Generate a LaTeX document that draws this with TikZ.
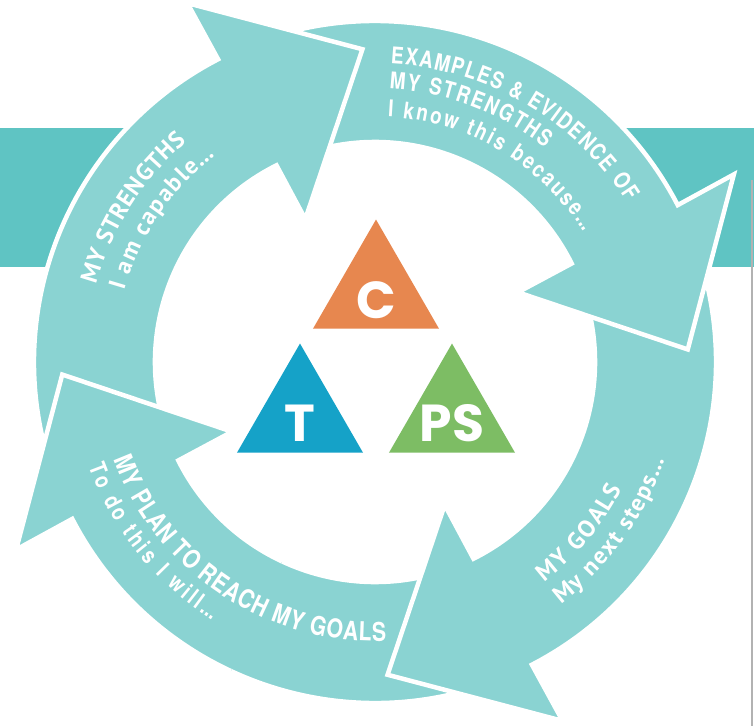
\documentclass[tikz,border=0pt]{standalone}
\usepackage{fontspec}
\usetikzlibrary{decorations.text,shapes.geometric}
\newfontfamily\humfont{PT Sans}
\newfontfamily\condfont[FakeStretch=0.82]{TeX Gyre Heros}
\newfontfamily\geofont{Poppins}
\newcommand\ringhum{\humfont\bfseries\fontsize{24}{24}\selectfont}
\newcommand\ringcond{\condfont\bfseries\fontsize{23}{23}\selectfont}
\newcommand\ringcondbig{\condfont\bfseries\fontsize{26}{26}\selectfont}
\definecolor{ringteal}{HTML}{8AD3D2}
\definecolor{bandteal}{HTML}{5FC4C3}
\definecolor{corange}{HTML}{E7874F}
\definecolor{tblue}{HTML}{15A2C8}
\definecolor{psgreen}{HTML}{7DBD64}
\def\ringarrow#1{(#1+85:341) arc[start angle=#1+85, end angle=#1+0.4, radius=341] -- (#1+0.6:405) -- (#1-24.7:313) -- (#1-1:159) -- (#1-0.4:220) arc[start angle=#1-0.4, end angle=#1+85, radius=220] -- cycle}
\tikzset{
	ringarrow/.style={fill=ringteal, draw=white, line width=4.5pt, line join=miter},
	ringtext/.style={decorate, decoration={text along path, text align={fit to path}, text color=white, text={#1}}},
	tri/.style={regular polygon, regular polygon sides=3, minimum size=145.5pt, inner sep=0pt, draw=none},
	tletter/.style={text=white, inner sep=0pt, font=\geofont\bfseries\fontsize{52}{52}\selectfont}
}

\begin{document}
\begin{tikzpicture}[x=1pt, y=1pt]
		%%%%% START %%%%%
		\useasboundingbox (-375,-364) rectangle (379,362);
		
		\fill[bandteal] (-375,95) rectangle (379,234);
		\fill[white] (0,0) circle (341);
		\draw[gray!60, line width=2pt] (377,182) -- (377,-364);
		
		\draw[ringarrow] \ringarrow{207};
		\draw[ringarrow] \ringarrow{-63};
		\draw[ringarrow] \ringarrow{27};
		\draw[ringarrow] \ringarrow{117};
		\begin{scope}
			\clip (0,0) -- (175:500) arc[start angle=175, end angle=245, radius=500] -- cycle;
			\draw[ringarrow] \ringarrow{207};
		\end{scope}
		
		\path[ringtext={|\ringhum|MY STRENGTHS}] (164.5:289.5) arc[start angle=164.5, end angle=130.5, radius=289.5];
		\path[ringtext={|\ringhum|I am capable{...}}] (164:261) arc[start angle=164, end angle=127.8, radius=261];
		
		\path[ringtext={|\ringcond|EXAMPLES {\&} EVIDENCE OF}] (87:298.5) arc[start angle=87, end angle=32.5, radius=298.5];
		\path[ringtext={|\ringcond|MY STRENGTHS}] (87:273.5) arc[start angle=87, end angle=51.6, radius=273.5];
		\path[ringtext={|\ringcond|I know this because{...}}] (87:245.5) arc[start angle=87, end angle=32, radius=245.5];
		
		\path[ringtext={|\ringhum|MY GOALS}] (-52.5:277.5) arc[start angle=-52.5, end angle=-27.3, radius=277.5];
		\path[ringtext={|\ringhum|My next steps{...}}] (-52.5:305.5) arc[start angle=-52.5, end angle=-18.8, radius=305.5];
		
		\path[ringtext={|\ringcondbig|MY PLAN TO REACH MY GOALS}] (200.5:279) arc[start angle=200.5, end angle=272.3, radius=279];
		\path[ringtext={|\ringcond|To do this I will{...}}] (200:305) arc[start angle=200, end angle=237.7, radius=305];
		
		\node[tri, fill=corange] (triC) at (1,69.7) {};
		\node[tri, fill=tblue] (triT) at (-75,-54.3) {};
		\node[tri, fill=psgreen] (triPS) at (77,-54.3) {};
		\node[tletter] (letC) at ([yshift=-7.7]triC.center) {C};
		\node[tletter] (letT) at ([yshift=-7]triT.center) {T};
		\node[tletter] (letPS) at ([yshift=-7]triPS.center) {PS};
		
		%%%%% END %%%%%
	\end{tikzpicture}
\end{document}
